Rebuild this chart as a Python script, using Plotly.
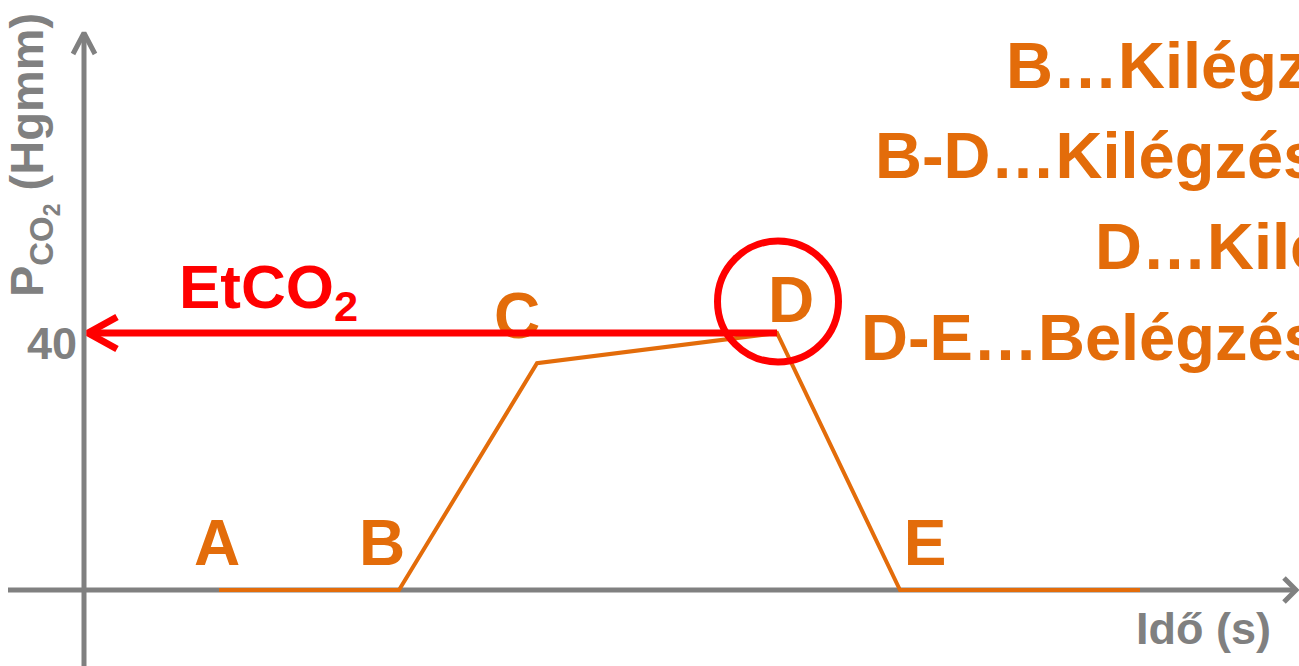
import plotly.graph_objects as go

# ---------------- data ----------------
point_names = ["A", "B", "C", "D", "E"]
time_s = [2.25, 5.25, 7.55, 11.55, 13.6, 17.6]
pco2 = [0, 0, 35.3, 40, 0, 0]
etco2_value = 40
ytick_label = "40"
legend_lines = [
    "B…Kilégzés kezdete",
    "B-D…Kilégzési szakasz",
    "D…Kilégzés vége",
    "D-E…Belégzés",
]
x_title = "Idő (s)"
y_title = "P<sub>CO<sub>2</sub></sub> (Hgmm)"
etco2_label = "EtCO<sub>2</sub>"

# ---------------- layout constants ----------------
W, H = 1299, 666
ORIGIN_X, ORIGIN_Y = 84, 590      # pixel position of (0, 0)
PX_S = 60.0                       # pixels per second
PX_U = 6.425                      # pixels per Hgmm

ORANGE = "#E36C0A"
RED = "#FF0000"
GRAY = "#808080"
FONT = "Liberation Sans, Arial, sans-serif"


def dx(px):
    return px / PX_S


def dy(px):
    return px / PX_U


def X(px):
    return (px - ORIGIN_X) / PX_S


def Y(py):
    return (ORIGIN_Y - py) / PX_U


fig = go.Figure()

# axes (drawn as shapes below traces)
fig.add_shape(type="line", x0=X(8), x1=X(1295), y0=0, y1=0,
              line=dict(color=GRAY, width=5), layer="below")
fig.add_shape(type="line", x0=0, x1=0, y0=Y(672), y1=Y(34),
              line=dict(color=GRAY, width=5), layer="below")
# axis arrow heads
fig.add_trace(go.Scatter(
    x=[dx(-11), 0, dx(11), None, X(1284), X(1296), X(1284)],
    y=[Y(54), Y(33), Y(54), None, dy(12), 0, dy(-12)],
    mode="lines", line=dict(color=GRAY, width=5), hoverinfo="skip",
    showlegend=False))

# capnogram curve
fig.add_trace(go.Scatter(
    x=time_s, y=pco2, mode="lines",
    line=dict(color=ORANGE, width=4), hoverinfo="skip", showlegend=False))

# point labels (pixel offsets: right, up)
label_offsets = [(-2, 41), (-17, 41), (-20, 41.5), (14, 27.5), (25, 41.5)]
lx, ly, lt = [], [], []
for name, t, p, off in zip(point_names, time_s, pco2, label_offsets):
    lx.append(t + dx(off[0]))
    ly.append(p + dy(off[1]))
    lt.append(name)
fig.add_trace(go.Scatter(
    x=lx, y=ly, text=lt, mode="text", textposition="middle center",
    textfont=dict(family=FONT, size=64, color=ORANGE, weight="bold"),
    hoverinfo="skip", showlegend=False))

# EtCO2 arrow from D to the y axis
d_t = time_s[3]
tip_t = dx(4)
fig.add_trace(go.Scatter(
    x=[tip_t + dx(29), tip_t, tip_t + dx(29), None, tip_t, d_t],
    y=[etco2_value + dy(16), etco2_value, etco2_value - dy(16), None,
       etco2_value, etco2_value],
    mode="lines", line=dict(color=RED, width=7), hoverinfo="skip",
    showlegend=False))

# circle around D
cx, cy, r = d_t + dx(1), pco2[3] + dy(31.5), 60.5
fig.add_shape(type="circle", x0=cx - dx(r), x1=cx + dx(r),
              y0=cy - dy(r), y1=cy + dy(r),
              line=dict(color=RED, width=7), layer="above")

# texts
fig.add_annotation(x=X(177), y=Y(291), text=etco2_label, showarrow=False,
                   xanchor="left", yanchor="middle",
                   font=dict(family=FONT, size=62, color=RED, weight="bold"))
fig.add_annotation(x=X(52), y=Y(343.5), text=ytick_label, showarrow=False,
                   xanchor="center", yanchor="middle",
                   font=dict(family=FONT, size=45, color=GRAY, weight="bold"))
fig.add_annotation(x=X(32), y=Y(155), text=y_title, showarrow=False,
                   textangle=-90, xanchor="center", yanchor="middle",
                   font=dict(family=FONT, size=47, color=GRAY, weight="bold"))
fig.add_annotation(x=X(1203), y=Y(628.5), text=x_title, showarrow=False,
                   xanchor="center", yanchor="middle",
                   font=dict(family=FONT, size=45, color=GRAY, weight="bold"))

legend_left = [1010, 879, 1099, 865]
legend_mid = [65, 155.5, 246, 337.5]
for txt, lpx, mpy in zip(legend_lines, legend_left, legend_mid):
    fig.add_annotation(x=X(lpx - 6), y=Y(mpy), text=txt, showarrow=False,
                       xanchor="left", yanchor="middle",
                       font=dict(family=FONT, size=65, color=ORANGE,
                                 weight="bold"))

fig.update_layout(
    width=W, height=H,
    margin=dict(l=0, r=0, t=0, b=0),
    paper_bgcolor="white", plot_bgcolor="white",
    xaxis=dict(range=[X(0), X(W)], visible=False, fixedrange=True),
    yaxis=dict(range=[Y(H), Y(0)], visible=False, fixedrange=True),
    showlegend=False,
)

fig.write_html("out.html", config={"displayModeBar": False},
               post_script="document.body.style.margin='0';")
